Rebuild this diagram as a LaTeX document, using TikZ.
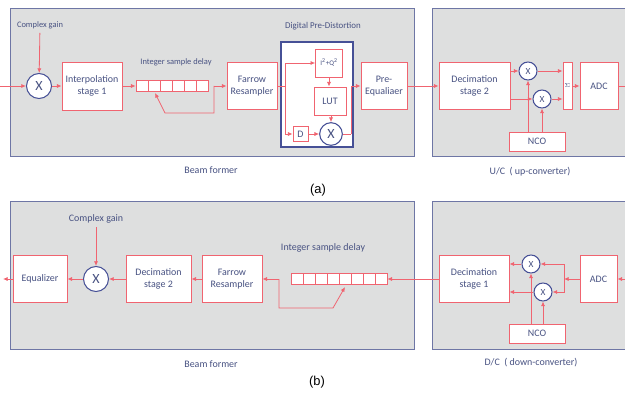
\documentclass[tikz,border=0pt]{standalone}
\usepackage{fontspec}
\setmainfont{Carlito}
\newfontfamily\capfont{Liberation Sans}
\usetikzlibrary{arrows.meta}
\definecolor{sigred}{RGB}{240,100,112}
\definecolor{txtblue}{RGB}{72,82,130}
\definecolor{panelblue}{RGB}{110,118,165}
\definecolor{panelgray}{RGB}{222,223,223}
\definecolor{mulblue}{RGB}{70,80,150}
\tikzset{
  panel/.style={draw=panelblue, fill=panelgray, line width=0.8pt},
  blk/.style={draw=sigred, fill=white, line width=0.8pt, text=txtblue, align=center,
    inner sep=1pt, font=\fontsize{8.5}{10}\selectfont},
  cell/.style={draw=sigred, fill=white, line width=0.6pt, minimum width=0.36cm,
    minimum height=0.34cm, inner sep=0pt},
  mul/.style={circle, draw=mulblue, fill=white, line width=0.9pt, inner sep=0pt, text=txtblue},
  bigmul/.style={mul, minimum size=0.75cm, font=\fontsize{12}{12}\selectfont},
  smallmul/.style={mul, minimum size=0.54cm, font=\fontsize{8}{8}\selectfont},
  lbl/.style={text=txtblue, font=\fontsize{8.5}{10}\selectfont},
  smalllbl/.style={text=txtblue, font=\fontsize{7.2}{8}\selectfont},
  sig/.style={draw=sigred, line width=0.7pt},
  arr/.style={sig, -{Latex[length=4pt,width=3.6pt]}},
}
\begin{document}
\begin{tikzpicture}[x=0.03cm, y=-0.03cm]
\clip (0,0) rectangle (625,398);

%%% (a) transmit chain %%%
\draw[panel] (10,8) rectangle (414,156);
\draw[panel] (432,8) rectangle (640,156);

\node[smalllbl] (gainA) at (40,25) {Complex gain};
\node[bigmul] (mulA) at (39,86) {X};
\node[blk, minimum width=1.8cm, minimum height=1.44cm] (interp) at (92,86) {Interpolation\\stage 1};
\node[smalllbl] (delaylblA) at (176,62) {Integer sample delay};
\foreach \i in {1,...,6}
  \node[cell] (dA\i) at ({130+12*\i},86) {};
\node[blk, minimum width=1.5cm, minimum height=1.41cm] (farrowA) at (252,86) {Farrow\\Resampler};

%% digital pre-distortion
\node[smalllbl, font=\fontsize{7.6}{9}\selectfont] (dpdlbl) at (323,26) {Digital Pre-Distortion};
\node[draw=mulblue, fill=white, line width=1pt, minimum width=2.16cm, minimum height=3.15cm] (dpd) at (317,94.5) {};
\node[blk, minimum width=0.8cm, minimum height=0.84cm, font=\fontsize{6}{7}\selectfont] (sq) at (329,63) {I\textsuperscript{2}+Q\textsuperscript{2}};
\node[blk, minimum width=0.96cm, minimum height=0.84cm] (lut) at (330,101) {LUT};
\node[blk, minimum width=0.45cm, minimum height=0.45cm] (dly) at (300.5,134) {D};
\node[bigmul, minimum size=0.68cm] (mulB) at (331,134) {X};
\node[blk, minimum width=1.38cm, minimum height=1.41cm] (preeq) at (384,86) {Pre-\\Equaliaer};

%% up-converter
\node[blk, minimum width=2.13cm, minimum height=1.41cm] (decimA) at (474.5,86) {Decimation\\stage 2};
\node[smallmul] (mulC) at (528,71) {X};
\node[smallmul] (mulD) at (542,99) {X};
\node[blk, minimum width=0.27cm, minimum height=1.41cm, font=\fontsize{5}{5}\selectfont] (sum) at (567.5,86) {$\Sigma$};
\node[blk, minimum width=1.14cm, minimum height=1.41cm] (adcA) at (599,86) {ADC};
\node[blk, minimum width=1.68cm, minimum height=0.57cm] (ncoA) at (537,141.5) {NCO};

\node[lbl] (bfA) at (211,170) {Beam former};
\node[lbl] (ucA) at (530,172) {U/C~~( up-converter)};
\node[font=\capfont\fontsize{11}{12}\selectfont] (capA) at (318,190) {(a)};

\coordinate (inA) at (0,86);
\coordinate (tapA) at (214,86);
\coordinate (fbA) at (165,113);
\coordinate (splitA) at (285,86);
\coordinate (joinA) at (351,134);
\coordinate (outA) at (630,86);

\draw[arr] (inA) -- (mulA);
\draw[arr] (gainA) -- (mulA);
\draw[arr] (mulA) -- (interp);
\draw[arr] (interp) -- (dA1);
\draw[arr] (tapA) -- (farrowA);
\draw[arr] (tapA) |- (fbA) -- (155,93);
\draw[sig] (farrowA) -- (splitA);
\draw[arr] (splitA) |- (sq);
\draw[arr] (splitA) |- (dly);
\draw[arr] (dly) -- (mulB);
\draw[arr] (sq) -- (sq.south |- lut.north);
\draw[arr] (lut.south -| mulB) -- (mulB);
\draw[sig] (mulB) -- (joinA);
\draw[arr] (joinA) |- (preeq);
\draw[arr] (preeq) -- (decimA);
\draw[arr] (decimA.east |- mulC) -- (mulC);
\draw[arr] (decimA.east |- mulD) -- (mulD);
\draw[arr] (mulC) -- (sum.west |- mulC);
\draw[arr] (mulD) -- (sum.west |- mulD);
\draw[arr] (ncoA.north -| mulC) -- (mulC);
\draw[arr] (ncoA.north -| mulD) -- (mulD);
\draw[arr] (sum) -- (adcA);
\draw[sig] (adcA) -- (outA);

%%% (b) receive chain %%%
\draw[panel] (10,201) rectangle (414,349);
\draw[panel] (432,201) rectangle (640,349);

\node[lbl] (gainB) at (96,219) {Complex gain};
\node[blk, minimum width=1.62cm, minimum height=1.41cm] (eq) at (40,279) {Equalizer};
\node[bigmul] (mulE) at (96,279) {X};
\node[blk, minimum width=1.95cm, minimum height=1.41cm] (decimB) at (158.5,279) {Decimation\\stage 2};
\node[blk, minimum width=1.8cm, minimum height=1.41cm] (farrowB) at (232,279) {Farrow\\Resampler};
\node[lbl] (delaylblB) at (323,248) {Integer sample delay};
\foreach \i in {1,...,8}
  \node[cell] (dB\i) at ({285+12*\i},279) {};

%% down-converter
\node[blk, minimum width=2.1cm, minimum height=1.41cm] (decimC) at (474,279) {Decimation\\stage 1};
\node[smallmul] (mulF) at (531,264) {X};
\node[smallmul] (mulG) at (543,292) {X};
\node[blk, minimum width=1.11cm, minimum height=1.41cm] (adcB) at (598.5,279) {ADC};
\node[blk, minimum width=1.68cm, minimum height=0.57cm] (ncoB) at (537,333.5) {NCO};

\node[lbl] (bfB) at (211,364) {Beam former};
\node[lbl] (dcB) at (531,363) {D/C~~( down-converter)};
\node[font=\capfont\fontsize{11}{12}\selectfont] (capB) at (317,382) {(b)};

\coordinate (inB) at (630,279);
\coordinate (splitB) at (564,279);
\coordinate (tapB) at (279,279);
\coordinate (fbB) at (333,308);
\coordinate (outB) at (3,279);

\draw[arr] (inB) -- (adcB);
\draw[arr] (adcB) -- (splitB);
\draw[arr] (splitB) |- (mulF);
\draw[arr] (splitB) |- (mulG);
\draw[arr] (mulF) -- (decimC.east |- mulF);
\draw[arr] (mulG) -- (decimC.east |- mulG);
\draw[arr] (ncoB.north -| mulF) -- (mulF);
\draw[arr] (ncoB.north -| mulG) -- (mulG);
\draw[arr] (decimC) -- (dB8);
\draw[arr] (tapB) -- (farrowB);
\draw[arr] (tapB) |- (fbB) -- (345,287);
\draw[arr] (farrowB) -- (decimB);
\draw[arr] (decimB) -- (mulE);
\draw[arr] (gainB) -- (mulE);
\draw[arr] (mulE) -- (eq);
\draw[arr] (eq) -- (outB);

\end{tikzpicture}
\end{document}
